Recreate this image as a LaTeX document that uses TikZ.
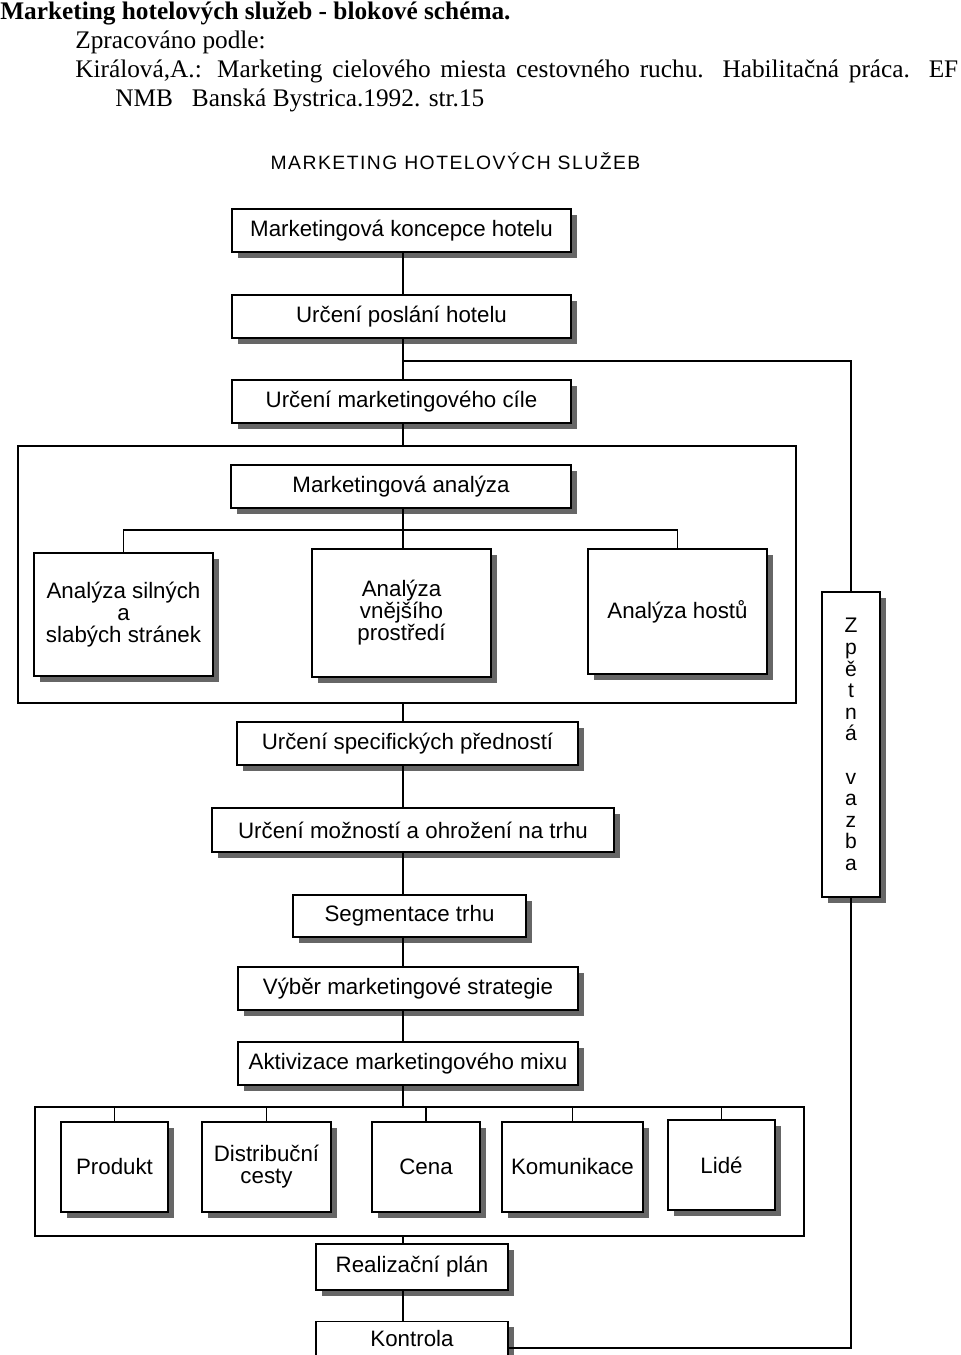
\documentclass[tikz,border=0pt]{standalone}
\usepackage{fontspec}
\setmainfont{Liberation Serif}
\newfontfamily\schemafont{Liberation Sans}
\newfontfamily\nadpisfont[LetterSpace=7.7]{Liberation Sans}
\usetikzlibrary{shadows}

\begin{document}
\begin{tikzpicture}[x=0.02cm,y=-0.02cm,
  blok/.style={draw,fill=white,line width=0.8pt,inner sep=2pt,align=center,
    font=\schemafont\fontsize{12.7}{12.5}\selectfont,
    drop shadow={shadow xshift=3.4pt,shadow yshift=-3.4pt,opacity=1,fill=black!60}},
  ramec/.style={draw,line width=0.8pt,inner sep=0pt},
  spoj/.style={line width=0.8pt},
  hlavicka/.style={anchor=base west,inner sep=0pt,font=\fontsize{14.4}{16.4}\selectfont}]

\useasboundingbox (0,0) rectangle (960,1355);

% Header
\node[hlavicka,font=\bfseries\fontsize{14.4}{16.4}\selectfont] (nazev) at (0,20) {Marketing hotelových služeb - blokové schéma.};
\node[hlavicka] (podle) at (75,49) {Zpracováno podle:};
\node[hlavicka] (zdroj) at (75,78) {\makebox[17.66cm][s]{Királová,A.: Marketing cielového miesta cestovného ruchu. Habilitačná práca. EF}};
\node[hlavicka] (zdroj2) at (115,107) {NMB~~~Banská Bystrica.1992. str.15};

% Title of the scheme
\node[font=\nadpisfont\fontsize{11}{13}\selectfont] (titul) at (455.5,161) {MARKETING HOTELOVÝCH SLUŽEB};

% Main chain
\coordinate (osa) at (403,0);
\coordinate (odbocka) at (403,361);
\coordinate (vetev) at (0,530);
\node[blok,minimum width=6.78cm,minimum height=0.86cm] (koncepce) at (401.5,230.5) {Marketingová koncepce hotelu};
\node[blok,minimum width=6.78cm,minimum height=0.86cm] (poslani) at (401.5,316.5) {Určení poslání hotelu};
\node[blok,minimum width=6.78cm,minimum height=0.86cm] (cil) at (401.5,401.5) {Určení marketingového cíle};

% Analysis block
\node[ramec,minimum width=15.56cm,minimum height=5.14cm] (ramecA) at (407,574.5) {};
\node[blok,minimum width=6.8cm,minimum height=0.86cm] (manalyza) at (401,486.5) {Marketingová analýza};
\node[blok,minimum width=3.58cm,minimum height=2.46cm] (silne) at (123.5,614.5) {Analýza silných\\a\\slabých stránek};
\node[blok,minimum width=3.58cm,minimum height=2.56cm] (vnejsi) at (401.5,613) {Analýza\\vnějšího\\prostředí};
\node[blok,minimum width=3.58cm,minimum height=2.5cm] (hoste) at (677.5,611.5) {Analýza hostů};

% Further steps
\node[blok,minimum width=6.82cm,minimum height=0.86cm] (specificke) at (407.5,743.5) {Určení specifických předností};
\node[blok,minimum width=8.04cm,minimum height=0.88cm] (moznosti) at (413,830) {Určení možností a ohrožení na trhu};
\node[blok,minimum width=4.66cm,minimum height=0.84cm] (segmentace) at (409.5,916) {Segmentace trhu};
\node[blok,minimum width=6.8cm,minimum height=0.86cm] (vyber) at (408,988.5) {Výběr marketingové strategie};
\node[blok,minimum width=6.8cm,minimum height=0.86cm] (aktivizace) at (408,1063.5) {Aktivizace marketingového mixu};

% Marketing mix
\node[ramec,minimum width=15.38cm,minimum height=2.58cm] (ramecB) at (419.5,1171.5) {};
\node[blok,minimum width=2.14cm,minimum height=1.8cm] (produkt) at (114.5,1167) {Produkt};
\node[blok,minimum width=2.58cm,minimum height=1.8cm] (distribuce) at (266.5,1167) {Distribuční\\cesty};
\node[blok,minimum width=2.16cm,minimum height=1.8cm] (cena) at (426,1167) {Cena};
\node[blok,minimum width=2.82cm,minimum height=1.8cm] (komunikace) at (572.5,1167) {Komunikace};
\node[blok,minimum width=2.14cm,minimum height=1.8cm] (lide) at (721.5,1165) {Lidé};

\node[blok,minimum width=3.84cm,minimum height=0.92cm] (realizace) at (412,1267) {Realizační plán};
\node[blok,minimum width=3.84cm,minimum height=0.7cm] (kontrola) at (412,1339) {Kontrola};

% Feedback
\node[blok,minimum width=1.16cm,minimum height=6.1cm,font=\schemafont\fontsize{12}{12.3}\selectfont] (zpetna) at (851,744.5) {Z\\p\\ě\\t\\n\\á\\[12.3pt]v\\a\\z\\b\\a};

% Connections
\draw[spoj] (koncepce.south -| osa) -- (poslani.north -| osa);
\draw[spoj] (poslani.south -| osa) -- (cil.north -| osa);
\draw[spoj] (cil.south -| osa) -- (ramecA.north -| osa);
\draw[spoj] (manalyza.south -| osa) -- (vnejsi.north -| osa);
\draw[spoj] (silne.north) -- (silne.north |- vetev) -- (hoste.north |- vetev) -- (hoste.north);
\draw[spoj] (ramecA.south -| osa) -- (specificke.north -| osa);
\draw[spoj] (specificke.south -| osa) -- (moznosti.north -| osa);
\draw[spoj] (moznosti.south -| osa) -- (segmentace.north -| osa);
\draw[spoj] (segmentace.south -| osa) -- (vyber.north -| osa);
\draw[spoj] (vyber.south -| osa) -- (aktivizace.north -| osa);
\draw[spoj] (aktivizace.south -| osa) -- (ramecB.north -| osa);
\foreach \n in {produkt,distribuce,cena,komunikace,lide}
  \draw[spoj] (\n.north) -- (\n.north |- ramecB.north);
\draw[spoj] (ramecB.south -| osa) -- (realizace.north -| osa);
\draw[spoj] (realizace.south -| osa) -- (kontrola.north -| osa);
\draw[spoj] (odbocka) -| (zpetna.north);
\draw[spoj] (zpetna.south) |- ([yshift=-5pt]kontrola.east);

\end{tikzpicture}
\end{document}
